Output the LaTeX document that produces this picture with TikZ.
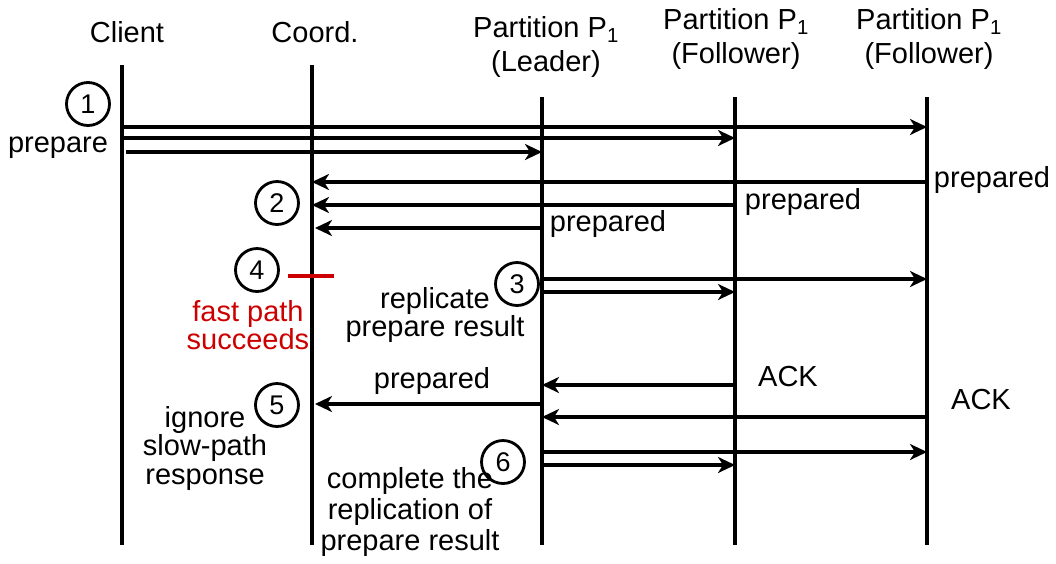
\documentclass[tikz,border=0pt]{standalone}
\usepackage{fontspec}
\setmainfont{Liberation Sans}
\usetikzlibrary{arrows.meta}

\begin{document}
\begin{tikzpicture}[x=1pt,y=-1pt,
  life/.style={line width=3.2pt},
  msg/.style={line width=3.2pt,-{Stealth[length=17pt,width=16pt,inset=5pt]}},
  lbl/.style={font=\fontsize{29}{28.5}\selectfont, inner sep=0pt, align=center},
  head/.style={font=\fontsize{29}{34}\selectfont, inner sep=0pt, align=center},
  num/.style={circle, draw, line width=2.8pt, minimum size=43pt, inner sep=0pt, font=\fontsize{27}{27}\selectfont},
  fast/.style={color=red!80!black},
]
\useasboundingbox (0,0) rectangle (1056,563);

% lifeline ends
\coordinate (cl-t) at (122,65);  \coordinate (cl-b) at (122,545);
\coordinate (co-t) at (312,65);  \coordinate (co-b) at (312,545);
\coordinate (ld-t) at (542,97);  \coordinate (ld-b) at (542,545);
\coordinate (f1-t) at (735,97);  \coordinate (f1-b) at (735,545);
\coordinate (f2-t) at (927,97);  \coordinate (f2-b) at (927,545);

% participant headers
\node[head] (h-cl) at (127,32) {Client};
\node[head] (h-co) at (315,32) {Coord.};
\node[head] (h-ld) at (546,47) {Partition P\textsubscript{1}\\(Leader)};
\node[head] (h-f1) at (736,39) {Partition P\textsubscript{1}\\(Follower)};
\node[head] (h-f2) at (929,39) {Partition P\textsubscript{1}\\(Follower)};

% lifelines
\foreach \p in {cl,co,ld,f1,f2}
  \draw[life] (\p-t) -- (\p-b);

% step 1: prepare to all replicas
\node[num] (n1) at (88,104) {1};
\node[lbl] (l1) at (58,148) {prepare};
\draw[msg] (cl-t |- 0,127) -- (f2-t |- 0,127);
\draw[msg] ([xshift=2pt]cl-t |- 0,138) -- (f1-t |- 0,138);
\draw[msg] ([xshift=4pt]cl-t |- 0,152) -- (ld-t |- 0,152);

% step 2: prepared replies to coordinator
\node[num] (n2) at (277,203) {2};
\draw[msg] (f2-t |- 0,182) -- (co-t |- 0,182);
\draw[msg] (f1-t |- 0,205) -- (co-t |- 0,205);
\draw[msg] (ld-t |- 0,228) -- ([xshift=3pt]co-t |- 0,228);
\node[lbl] (l2a) at (992,180) {prepared};
\node[lbl] (l2b) at (803,202) {prepared};
\node[lbl] (l2c) at (608,224) {prepared};

% step 3: leader replicates the prepare result
\node[num] (n3) at (517,284) {3};
\draw[msg] (ld-t |- 0,279) -- (f2-t |- 0,279);
\draw[msg] (ld-t |- 0,292) -- (f1-t |- 0,292);
\node[lbl] (l3) at (435,315) {replicate\\prepare result};

% step 4: fast path succeeds
\node[num] (n4) at (257,270) {4};
\coordinate (fp-a) at (288,276);
\coordinate (fp-b) at (334,276);
\draw[fast, line width=3.2pt] (fp-a) -- (fp-b);
\node[lbl, fast] (l4) at (248,325) {fast path\\succeeds};

% step 5: acknowledgements and slow-path reply
\draw[msg] (f1-t |- 0,385) -- (ld-t |- 0,385);
\draw[msg] (f2-t |- 0,417) -- (ld-t |- 0,417);
\node[lbl] (a1) at (788,377) {ACK};
\node[lbl] (a2) at (981,400) {ACK};
\draw[msg] (ld-t |- 0,404) -- ([xshift=3pt]co-t |- 0,404);
\node[lbl] (l5a) at (432,381) {prepared};
\node[num] (n5) at (277,405) {5};
\node[lbl] (l5) at (205,448) {ignore\\slow-path\\response};

% step 6: finish replication
\node[num] (n6) at (503,462) {6};
\draw[msg] (ld-t |- 0,452) -- (f2-t |- 0,452);
\draw[msg] (ld-t |- 0,465) -- (f1-t |- 0,465);
\node[lbl, font=\fontsize{29}{31}\selectfont] (l6) at (410,512) {complete the\\replication of\\prepare result};
\end{tikzpicture}
\end{document}
